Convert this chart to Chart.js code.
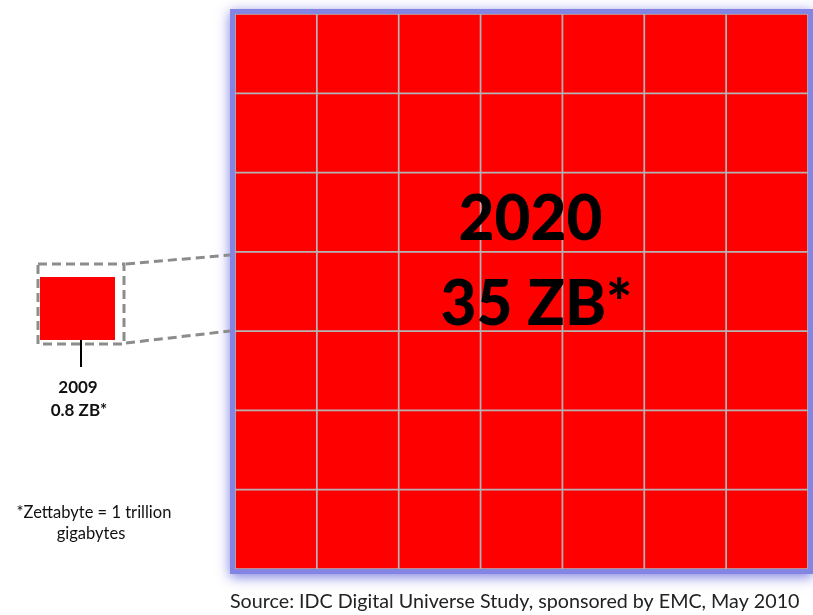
<!DOCTYPE html>
<html>
<head>
<meta charset="utf-8">
<script src="https://cdn.jsdelivr.net/npm/chart.js@4/dist/chart.umd.min.js"></script>
<style>
  html, body { margin: 0; padding: 0; background: #fff; }
  #wrap { position: relative; width: 813px; height: 615px; }
  #main { position: absolute; left: 0; top: 0; }
  #small { position: absolute; left: 40px; top: 277px; }
</style>
</head>
<body>
<div id="wrap">
  <canvas id="main" width="813" height="615"></canvas>
  <canvas id="small" width="75" height="63"></canvas>
</div>
<script>
// data
const years = ['2009', '2020'];
const zettabytes = [0.8, 35];
const gridCols = ['c1', 'c2', 'c3', 'c4', 'c5', 'c6', 'c7'];
const gridRows = ['r1', 'r2', 'r3', 'r4', 'r5', 'r6', 'r7'];
const cellUnits = [1, 1, 1, 1, 1, 1, 1];
const footnote = ['*Zettabyte = 1 trillion', 'gigabytes'];
const sourceText = 'Source: IDC Digital Universe Study, sponsored by EMC, May 2010';

const RED = '#ff0000';
const FONT = 'Lato, "Open Sans", sans-serif';

// purple glow round the big grid
const glowPlugin = {
  id: 'glow',
  beforeDatasetsDraw(chart) {
    const a = chart.chartArea;
    const ctx = chart.ctx;
    ctx.save();
    ctx.shadowColor = 'rgba(120,120,225,0.95)';
    ctx.shadowBlur = 12;
    ctx.shadowOffsetY = 3;
    ctx.fillStyle = '#8484e2';
    ctx.fillRect(a.left - 5, a.top - 5, a.right - a.left + 10, a.bottom - a.top + 10);
    ctx.restore();
  }
};

// texts, zoom box and connector lines
const notesPlugin = {
  id: 'notes',
  afterDraw(chart) {
    const a = chart.chartArea;
    const ctx = chart.ctx;
    const cx = (a.left + a.right) / 2;
    ctx.save();

    // big label
    ctx.fillStyle = '#000';
    ctx.textAlign = 'center';
    ctx.textBaseline = 'alphabetic';
    ctx.font = '900 62px ' + FONT;
    ctx.fillText(years[1], cx + 9, 240);
    ctx.fillText(zettabytes[1] + ' ZB*', cx + 15, 325);

    // dashed zoom box and connectors
    ctx.strokeStyle = '#8c8c8c';
    ctx.lineWidth = 3;
    ctx.setLineDash([9, 5]);
    ctx.strokeRect(38, 264, 86, 80);
    ctx.beginPath();
    ctx.moveTo(126, 264);
    ctx.lineTo(a.left - 5, 255);
    ctx.moveTo(126, 343);
    ctx.lineTo(a.left - 5, 331);
    ctx.stroke();
    ctx.setLineDash([]);

    // pointer from the small square
    ctx.strokeStyle = '#000';
    ctx.lineWidth = 2;
    ctx.beginPath();
    ctx.moveTo(81, 330);
    ctx.lineTo(81, 367);
    ctx.stroke();

    ctx.fillStyle = '#111';
    ctx.font = 'bold 17px ' + FONT;
    ctx.fillText(years[0], 78, 393);
    ctx.fillText(zettabytes[0] + ' ZB*', 79, 416);

    ctx.font = '16.5px ' + FONT;
    ctx.fillText(footnote[0], 94, 518);
    ctx.fillText(footnote[1], 91, 539);

    ctx.fillStyle = '#222';
    ctx.font = '19.7px ' + FONT;
    ctx.textAlign = 'left';
    ctx.fillText(sourceText, 230, 608);
    ctx.restore();
  }
};

new Chart(document.getElementById('main'), {
  type: 'bar',
  data: {
    labels: gridCols,
    datasets: gridRows.map(r => ({
      label: r,
      data: cellUnits,
      backgroundColor: RED,
      borderColor: '#b4b4b4',
      borderWidth: 1.2,
      borderSkipped: false,
      barPercentage: 1,
      categoryPercentage: 1
    }))
  },
  options: {
    responsive: false,
    animation: false,
    layout: { padding: { left: 235, top: 14, right: 5, bottom: 46 } },
    plugins: { legend: { display: false }, tooltip: { enabled: false } },
    scales: {
      x: { display: false, stacked: true },
      y: { display: false, stacked: true, min: 0, max: gridRows.length }
    }
  },
  plugins: [glowPlugin, notesPlugin]
});

// the 2009 square
new Chart(document.getElementById('small'), {
  type: 'bar',
  data: {
    labels: [years[0]],
    datasets: [{
      data: [zettabytes[0]],
      backgroundColor: RED,
      borderWidth: 0,
      barPercentage: 1,
      categoryPercentage: 1
    }]
  },
  options: {
    responsive: false,
    animation: false,
    layout: { padding: 0 },
    plugins: { legend: { display: false }, tooltip: { enabled: false } },
    scales: {
      x: { display: false },
      y: { display: false, min: 0, max: zettabytes[0] }
    }
  }
});
</script>
</body>
</html>
